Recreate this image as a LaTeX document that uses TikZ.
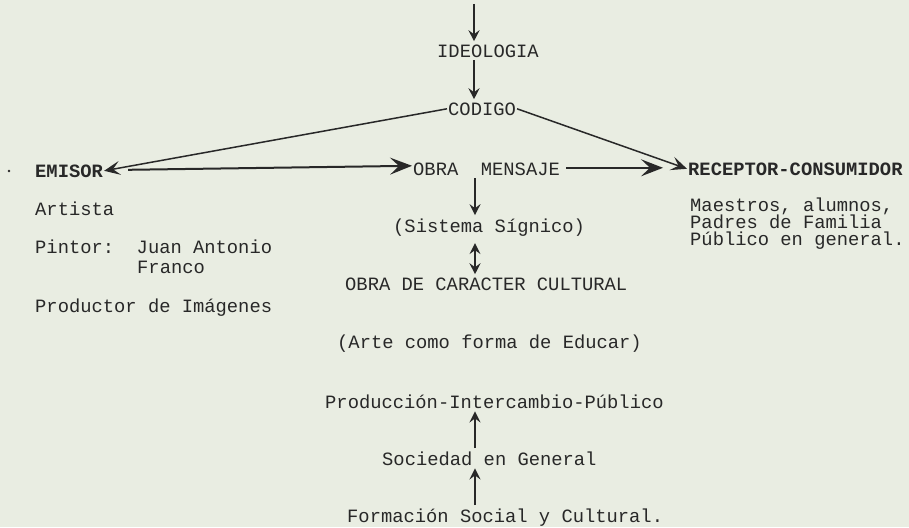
\documentclass[tikz,border=0pt]{standalone}
\usepackage{fontspec}
\setmainfont{Liberation Mono}
\usetikzlibrary{arrows.meta}
\definecolor{paper}{RGB}{233,237,226}
\definecolor{ink}{RGB}{40,40,40}
\begin{document}
\begin{tikzpicture}[x=1pt,y=-1pt,
  txt/.style={anchor=base west, inner xsep=1pt, inner ysep=3pt, text=ink,
              font=\fontsize{18.8}{16}\selectfont},
  tight/.style={txt, inner ysep=0pt},
  btxt/.style={txt, font=\fontsize{18.8}{16}\selectfont\bfseries},
  arr/.style={draw=ink, line width=2.2pt, -{Stealth[length=11pt,width=11pt,inset=4pt]}},
  dblarr/.style={draw=ink, line width=2.2pt, {Stealth[length=11pt,width=11pt,inset=4pt]}-{Stealth[length=11pt,width=11pt,inset=4pt]}},
  slim/.style={draw=ink, line width=1.5pt, -{Stealth[length=16pt,width=14pt,inset=7pt]}},
  bigarr/.style={draw=ink, line width=2pt, -{Stealth[length=22pt,width=17pt,inset=9pt]}}]
\fill[paper] (0,0) rectangle (909,527);
\useasboundingbox (0,0) rectangle (909,527);

% nodes
\node[txt] (ideo) at (436,57) {IDEOLOGIA};
\node[txt] (codigo) at (447,115) {CODIGO};
\node[txt] (obra) at (412,175) {OBRA~~MENSAJE};
\node[btxt] (emisor) at (34,177) {EMISOR};
\node[btxt] (receptor) at (687,175) {RECEPTOR-CONSUMIDOR};
\node[tight] (m1) at (689,211) {Maestros, alumnos,};
\node[tight] (m2) at (689,228) {Padres de Familia};
\node[tight] (m3) at (689,245) {Público en general.};
\node[txt] (artista) at (34,215) {Artista};
\node[txt] (pintor) at (34,253) {Pintor:~~Juan Antonio};
\node[txt] (franco) at (136,273) {Franco};
\node[txt] (productor) at (34,312) {Productor de Imágenes};
\node[txt] (sistema) at (392,232) {(Sistema Sígnico)};
\node[txt] (obracult) at (344,290) {OBRA DE CARACTER CULTURAL};
\node[txt] (arte) at (336,348) {(Arte como forma de Educar)};
\node[txt] (prod) at (324,408) {Producción-Intercambio-Público};
\node[txt] (soc) at (381,465) {Sociedad en General};
\node[txt] (form) at (346,522) {Formación Social y Cultural.};

\coordinate (topend) at (474,4);
\coordinate (col) at (475,0);
\fill[ink] (9,171) circle (1.3pt);

% connectors
\draw[arr] (topend) -- (ideo.north -| topend);
\draw[arr] (ideo.south -| topend) -- (codigo.north -| topend);
\draw[arr] (obra.south -| col) -- (sistema.north -| col);
\draw[dblarr] ([yshift=-4pt]sistema.south -| col) -- (obracult.north -| col);
\draw[arr] (soc.north -| col) -- (prod.south -| col);
\draw[arr] (form.north -| col) -- (soc.south -| col);
\draw[slim] (codigo.west) -- (emisor.east);
\draw[slim] (codigo.east) -- (receptor.west);
\draw[bigarr] ([xshift=24pt,yshift=1pt]emisor.east) -- ([yshift=3pt]obra.west);
\draw[bigarr] ([xshift=5pt,yshift=1pt]obra.east) -- ([xshift=-24pt,yshift=1pt]receptor.west);
\end{tikzpicture}
\end{document}
